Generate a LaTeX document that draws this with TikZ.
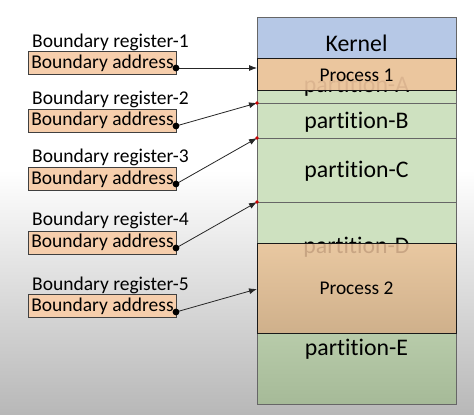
\documentclass[tikz,border=0pt]{standalone}
\usepackage{fontspec}
\setmainfont[Ligatures=NoCommon]{Carlito}
\definecolor{kernelblue}{RGB}{182,200,230}
\definecolor{partgreen}{RGB}{206,225,192}
\definecolor{partdark}{RGB}{166,186,152}
\definecolor{procorange}{RGB}{238,196,156}
\definecolor{procdark}{RGB}{212,172,134}
\definecolor{regorange}{RGB}{246,206,172}
\usetikzlibrary{arrows.meta,positioning}

\begin{document}
\begin{tikzpicture}[x=1pt,y=-1pt,
    regbox/.style={draw=black!75, fill=regorange, minimum width=148pt, minimum height=23pt, inner sep=0pt, font=\fontsize{19.5}{19.5}\selectfont},
    reglabel/.style={anchor=west, inner sep=0pt, font=\fontsize{19.5}{19.5}\selectfont},
    partlabel/.style={anchor=base, inner sep=0pt, font=\fontsize{23.8}{23.8}\selectfont},
    proclabel/.style={anchor=base, inner sep=0pt, font=\fontsize{19.4}{19.4}\selectfont},
    pointer/.style={-{Latex[length=8pt,width=6pt]}, black!85, line width=0.8pt}]
    % Background
    \fill[white] (0,0) rectangle (474,415);
    \shade[top color=white, bottom color=black!28] (0,170) rectangle (474,415);
    \useasboundingbox (0,0) rectangle (474,415);

    % Memory column
    \fill[kernelblue] (257,17) rectangle (456,58);
    \fill[partgreen] (257,58) rectangle (456,243);
    \shade[top color=partgreen, bottom color=partdark] (257,243) rectangle (456,404);
    \draw[black!60] (257,17) rectangle (456,404);
    \draw[black!60] (257,58) -- (456,58);
    \draw[black!60] (257,103) -- (456,103);
    \draw[black!60] (257,138) -- (456,138);
    \draw[black!60] (257,202) -- (456,202);
    \draw[black!60] (257,333) -- (456,333);

    \node[partlabel] (kernel) at (356.5,51) {Kernel};
    \node[partlabel] (partA) at (356.5,92) {partition-A};
    \node[partlabel] (partB) at (356.5,128) {partition-B};
    \node[partlabel] (partC) at (356.5,177) {partition-C};
    \node[partlabel] (partD) at (356.5,253) {partition-D};
    \node[partlabel] (partE) at (356.5,355) {partition-E};

    % Processes
    \draw[black!90, fill=procorange, fill opacity=0.92] (257,58) rectangle (456,90);
    \node[proclabel] (proc1) at (356.5,81) {Process 1};
    \shade[top color=procorange, bottom color=procdark, opacity=0.85] (257,243) rectangle (456,333);
    \draw[black!90] (257,243) rectangle (456,333);
    \node[proclabel] (proc2) at (356.5,294) {Process 2};

    % Boundary registers
    \node[reglabel] (reg1) at (32,42) {Boundary register-1};
    \node[regbox] (ba1) at (102.5,63) {Boundary address};
    \node[reglabel] (reg2) at (32,99) {Boundary register-2};
    \node[regbox] (ba2) at (102.5,120.5) {Boundary address};
    \node[reglabel] (reg3) at (32,157) {Boundary register-3};
    \node[regbox] (ba3) at (102.5,179) {Boundary address};
    \node[reglabel] (reg4) at (32,220) {Boundary register-4};
    \node[regbox] (ba4) at (102.5,242.5) {Boundary address};
    \node[reglabel] (reg5) at (32,285) {Boundary register-5};
    \node[regbox] (ba5) at (102.5,306) {Boundary address};

    % Pointers
    \coordinate (d1) at (176,68);
    \coordinate (d2) at (176,126);
    \coordinate (d3) at (176,184);
    \coordinate (d4) at (176,248);
    \coordinate (d5) at (176,312);
    \coordinate (t1) at (257,68);
    \coordinate (t2) at (257,103);
    \coordinate (t3) at (257,138);
    \coordinate (t4) at (257,202);
    \coordinate (t5) at (257,289);
    \draw[pointer] (d1) -- (t1);
    \draw[pointer] (d2) -- (t2);
    \draw[pointer] (d3) -- (t3);
    \draw[pointer] (d4) -- (t4);
    \draw[pointer] (d5) -- (t5);
    \foreach \d in {d1,d2,d3,d4,d5}
        \fill (\d) circle (3.4);
    \fill[red!80!black] (t2) circle (1.8);
    \fill[red!80!black] (t3) circle (1.8);
    \fill[red!80!black] (t4) circle (1.8);
\end{tikzpicture}
\end{document}
